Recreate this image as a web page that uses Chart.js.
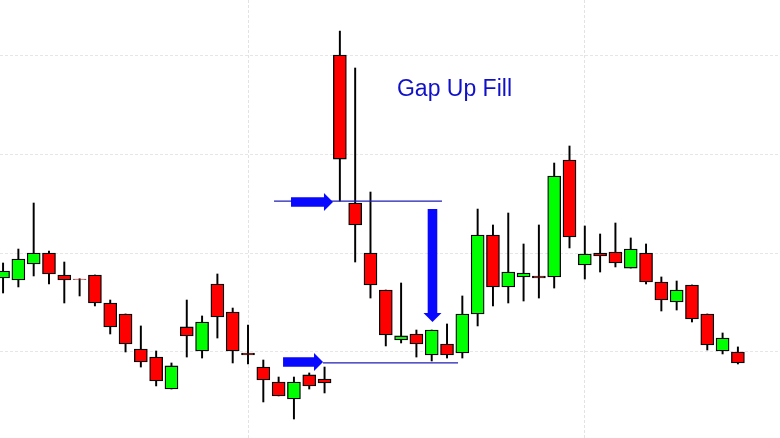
<!DOCTYPE html>
<html>
<head>
<meta charset="utf-8">
<script src="https://cdn.jsdelivr.net/npm/chart.js@4.4.1/dist/chart.umd.min.js"></script>
<style>
  html, body { margin: 0; padding: 0; background: #ffffff; }
  #wrap { width: 780px; height: 438px; }
</style>
</head>
<body>
<div id="wrap"><canvas id="c" width="780" height="438"></canvas></div>
<script>
// ---- Data (OHLC per session, price units) ----
const opens  = [107.47,107.27,108.89,110.00,107.78,107.37,107.78,104.95,103.84,100.30,99.49,96.26,102.53,100.10,106.87,104.04,99.90,98.48,96.97,95.25,97.68,97.27,130.00,115.05,110.00,106.26,101.21,101.82,99.70,100.81,99.90,103.84,111.82,106.57,107.58,107.68,107.58,119.39,108.79,110.00,110.10,108.48,110.00,107.07,105.05,106.77,103.84,100.10,100.00];
const highs  = [108.99,110.40,115.05,110.20,109.09,107.40,107.78,105.25,103.84,102.63,100.10,98.89,105.25,103.64,107.88,104.44,102.73,99.19,97.47,97.47,97.88,98.48,132.42,128.69,116.16,106.26,106.97,102.22,102.22,102.83,105.66,114.44,112.83,114.04,110.91,112.83,119.09,120.81,112.73,111.92,113.03,111.52,110.91,107.58,107.17,106.77,103.84,101.92,100.51];
const lows   = [105.96,106.57,107.68,106.87,104.95,105.66,104.65,101.82,100.00,98.48,96.57,96.26,99.49,99.39,101.41,98.89,98.79,94.95,95.56,93.23,96.26,95.86,115.25,109.09,105.45,100.61,100.91,99.49,99.09,99.39,99.39,102.63,104.65,104.95,105.15,105.45,106.46,110.51,107.37,108.08,108.59,108.48,106.87,104.14,104.24,103.03,100.20,99.80,98.79];
const closes = [108.18,109.39,110.00,107.88,107.27,107.32,104.95,102.53,100.81,98.99,97.07,98.59,101.62,103.03,103.54,100.10,99.70,97.17,95.56,96.97,96.57,96.87,119.49,112.83,106.77,101.72,101.62,100.81,102.22,99.70,103.84,111.82,106.57,108.08,107.98,107.47,117.78,111.62,109.90,109.70,108.99,110.40,107.07,105.25,106.26,103.33,100.71,101.41,98.89];

// grid tick values
const priceGrid = [100, 110, 120, 130];
const sessionGrid = [16, 38];

// annotations (session index / price units)
const gapLines = [
  { from: 17.70, to: 28.67, price: 115.25 },
  { from: 20.90, to: 29.72, price: 98.89 }
];
const arrows = [
  { x0: 18.81, y0: 115.15, x1: 21.55, y1: 115.15 },
  { x0: 18.29, y0: 98.99,  x1: 20.90, y1: 98.99 },
  { x0: 28.05, y0: 114.44, x1: 28.05, y1: 103.03 }
];
const labels = [ { text: 'Gap Up Fill', x: 25.73, price: 125.86 } ];

// ---- build datasets ----
const idx = opens.map((_, i) => i);
const bodyData = idx.map(i => ({ x: i, y: [opens[i], closes[i]] }));
const wickData = idx.map(i => ({ x: i, y: [lows[i], highs[i]] }));
const bodyColors = idx.map(i => closes[i] > opens[i] ? '#00ff00' : '#ff0000');

const annotationPlugin = {
  id: 'gapAnnotations',
  afterDatasetsDraw(chart) {
    const xs = chart.scales.x, ys = chart.scales.y, ctx = chart.ctx;
    ctx.save();
    // lines
    ctx.strokeStyle = '#1e1eb4';
    ctx.lineWidth = 1.3;
    gapLines.forEach(l => {
      const py = ys.getPixelForValue(l.price);
      ctx.beginPath();
      ctx.moveTo(xs.getPixelForValue(l.from), py);
      ctx.lineTo(xs.getPixelForValue(l.to), py);
      ctx.stroke();
    });
    // arrows
    ctx.fillStyle = '#0808ff';
    arrows.forEach(a => {
      const x0 = xs.getPixelForValue(a.x0), y0 = ys.getPixelForValue(a.y0);
      const x1 = xs.getPixelForValue(a.x1), y1 = ys.getPixelForValue(a.y1);
      const len = Math.hypot(x1 - x0, y1 - y0);
      const ux = (x1 - x0) / len, uy = (y1 - y0) / len;
      const nx = -uy, ny = ux;
      const sw = 4.8, hw = 9, hl = 9;
      const bx = x1 - ux * hl, by = y1 - uy * hl;
      ctx.beginPath();
      ctx.moveTo(x0 + nx * sw, y0 + ny * sw);
      ctx.lineTo(bx + nx * sw, by + ny * sw);
      ctx.lineTo(bx + nx * hw, by + ny * hw);
      ctx.lineTo(x1, y1);
      ctx.lineTo(bx - nx * hw, by - ny * hw);
      ctx.lineTo(bx - nx * sw, by - ny * sw);
      ctx.lineTo(x0 - nx * sw, y0 - ny * sw);
      ctx.closePath();
      ctx.fill();
    });
    // text
    ctx.fillStyle = '#1010c8';
    ctx.font = '23px "Liberation Sans", Arial, sans-serif';
    ctx.textBaseline = 'alphabetic';
    ctx.textAlign = 'left';
    labels.forEach(t => {
      ctx.fillText(t.text, xs.getPixelForValue(t.x), ys.getPixelForValue(t.price));
    });
    ctx.restore();
  }
};

new Chart(document.getElementById('c'), {
  type: 'bar',
  data: {
    datasets: [
      {
        label: 'wick',
        data: wickData,
        backgroundColor: '#000000',
        borderWidth: 0,
        barThickness: 1.3,
        grouped: false,
        order: 2
      },
      {
        label: 'body',
        data: bodyData,
        backgroundColor: bodyColors,
        borderColor: '#000000',
        borderWidth: 1.3,
        borderSkipped: false,
        barThickness: 13,
        grouped: false,
        order: 1
      }
    ]
  },
  options: {
    responsive: false,
    animation: false,
    maintainAspectRatio: false,
    layout: { padding: 0 },
    plugins: { legend: { display: false }, tooltip: { enabled: false } },
    scales: {
      x: {
        type: 'linear',
        min: -0.2,
        max: 50.75,
        offset: false,
        ticks: { display: false },
        afterBuildTicks: s => { s.ticks = sessionGrid.map(v => ({ value: v })); },
        grid: { color: '#e2e2e2', lineWidth: 1, drawTicks: false, offset: false },
        border: { display: false, dash: [3, 2] }
      },
      y: {
        type: 'linear',
        min: 91.31,
        max: 135.56,
        ticks: { display: false },
        afterBuildTicks: s => { s.ticks = priceGrid.map(v => ({ value: v })); },
        grid: { color: '#e6e6e6', lineWidth: 1, drawTicks: false },
        border: { display: false, dash: [3, 2] }
      }
    }
  },
  plugins: [annotationPlugin]
});
</script>
</body>
</html>
